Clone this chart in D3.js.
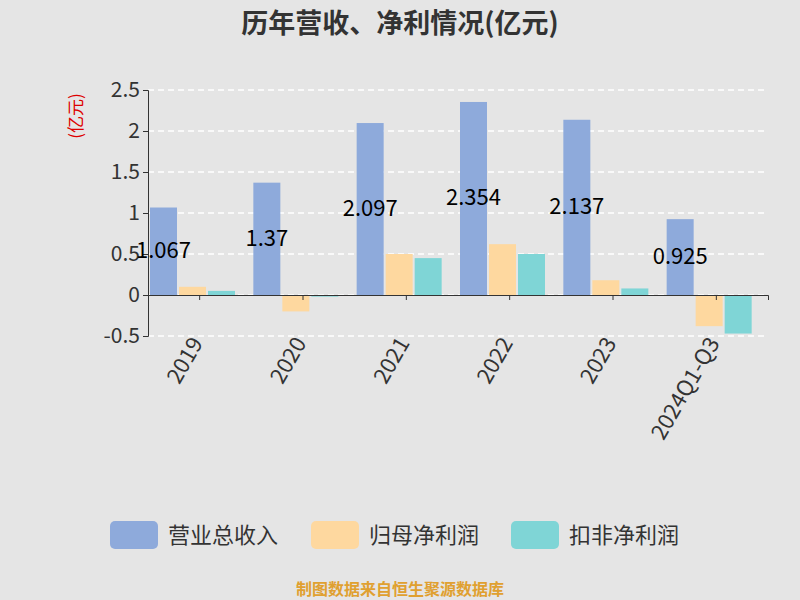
<!DOCTYPE html>
<html><head><meta charset="utf-8">
<script src="https://cdn.jsdelivr.net/npm/d3@7"></script>
<style>body{margin:0;background:#e5e5e5;}</style></head>
<body><svg id="c" width="800" height="600"></svg>
<script>
const categories=["2019","2020","2021","2022","2023","2024Q1-Q3"];
const revenue=[1.067,1.37,2.097,2.354,2.137,0.925];
const netProfit=[0.1,-0.2,0.5,0.62,0.18,-0.38];
const deducted=[0.05,-0.02,0.45,0.5,0.08,-0.47];
const seriesNames=["营业总收入","归母净利润","扣非净利润"];
const colors=["#8eaadb","#fed89f","#7fd5d6"];
const yTicks=[-0.5,0,0.5,1,1.5,2,2.5];
const labels=["1.067","1.37","2.097","2.354","2.137","0.925"];

const svg=d3.select("#c");
svg.append("rect").attr("width",800).attr("height",600).attr("fill","#e5e5e5");
const x=d3.scaleBand().domain(categories).range([148,768]);
const y=d3.scaleLinear().domain([-0.5,2.5]).range([336,90]);
const font="'Noto Sans CJK SC','Noto Sans',sans-serif";

svg.append("g").selectAll("line").data(yTicks).join("line")
 .attr("x1",148).attr("x2",768).attr("y1",d=>y(d)).attr("y2",d=>y(d))
 .attr("stroke","#fff").attr("stroke-dasharray","6,4").attr("stroke-width",1.5);
const ya=svg.append("g").attr("transform","translate(148,0)")
 .call(d3.axisLeft(y).tickValues(yTicks).tickFormat(d=>String(d)).tickSize(5));
ya.selectAll("text").attr("font-size",21).attr("fill","#333").attr("font-family",font);
ya.selectAll("line,path").attr("stroke","#333");

const series=[revenue,netProfit,deducted];
const bw=27;
series.forEach((s,i)=>{
 svg.append("g").selectAll("rect").data(s).join("rect")
  .attr("x",(d,j)=>x(categories[j])+2+i*(bw+2)).attr("width",bw)
  .attr("y",d=>y(Math.max(0,d))).attr("height",d=>Math.abs(y(d)-y(0)))
  .attr("fill",colors[i]);
});
const xa=svg.append("g").attr("transform",`translate(0,${y(0)})`)
 .call(d3.axisBottom(x).tickSize(5).tickFormat(()=>""));
xa.selectAll("line,path").attr("stroke","#333");
svg.append("g").selectAll("text").data(categories).join("text")
 .attr("transform",d=>`translate(${x(d)+x.bandwidth()/2+4},343) rotate(-60)`)
 .attr("text-anchor","end").attr("font-size",22).attr("fill","#333").attr("font-family",font).text(d=>d);

svg.append("g").selectAll("text").data(revenue).join("text")
 .attr("x",(d,j)=>x(categories[j])+2+bw/2).attr("y",d=>y(d/2)+7)
 .attr("text-anchor","middle").attr("font-size",22).attr("fill","#000").attr("font-family",font)
 .text((d,j)=>labels[j]);

svg.append("text").attr("x",400).attr("y",33).attr("text-anchor","middle")
 .attr("font-size",27).attr("font-weight","bold").attr("fill","#333").attr("font-family",font)
 .text("历年营收、净利情况(亿元)");
svg.append("text").attr("transform","translate(82,116) rotate(-90)").attr("text-anchor","middle")
 .attr("font-size",17).attr("fill","#d00").attr("font-family",font).text("(亿元)");

const lg=[{x:110},{x:311},{x:511}];
seriesNames.forEach((n,i)=>{
 svg.append("rect").attr("x",lg[i].x).attr("y",521).attr("width",48).attr("height",28).attr("rx",5).attr("fill",colors[i]);
 svg.append("text").attr("x",lg[i].x+58).attr("y",543).attr("font-size",22).attr("fill","#333").attr("font-family",font).text(n);
});
svg.append("text").attr("x",400).attr("y",595).attr("text-anchor","middle").attr("font-size",16).attr("font-weight","bold")
 .attr("fill","#e0a030").attr("font-family",font).text("制图数据来自恒生聚源数据库");
</script></body></html>
